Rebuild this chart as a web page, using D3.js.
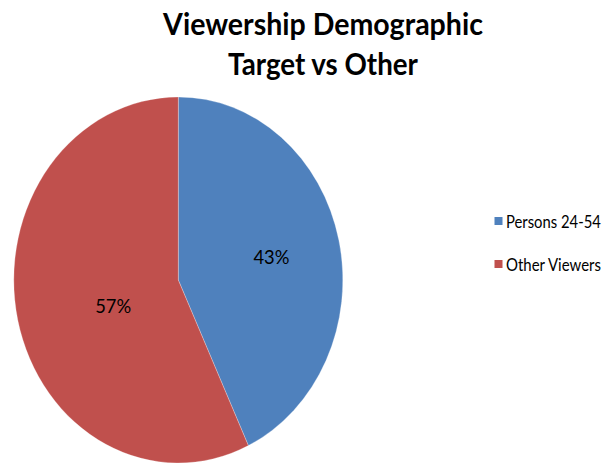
<!DOCTYPE html>
<html>
<head>
<meta charset="utf-8">
<script src="https://cdn.jsdelivr.net/npm/d3@7"></script>
<style>
  html, body { margin: 0; padding: 0; background: #fff; }
  svg { display: block; }
  text { font-family: Lato, "Open Sans", "DejaVu Sans", sans-serif; fill: #000; }
</style>
</head>
<body>
<svg id="chart" width="605" height="465"></svg>
<script>
// Viewership split: target demographic versus everyone else
const categories = ["Persons 24-54", "Other Viewers"];
const shares = [43, 57];
const colors = ["#4F81BD", "#C0504D"];
const titleLines = ["Viewership Demographic", "Target vs Other"];

const svg = d3.select("#chart");

// Narrow a text horizontally around its anchor point so it spans `width` px
function squeeze(sel, x, y, width, anchor) {
  const natural = sel.node().getComputedTextLength();
  const k = Math.min(1, width / natural);
  sel.attr("x", 0).attr("y", 0)
    .attr("text-anchor", anchor)
    .attr("transform", `translate(${x},${y}) scale(${k},1)`);
}

// Pie is drawn slightly taller than wide
const cx = 178.3, cy = 280, ry = 183, rx = 164.5;

const pie = d3.pie().sort(null).value(d => d.value);
const data = categories.map((c, i) => ({ name: c, value: shares[i], color: colors[i] }));
const arcs = pie(data);

const arc = d3.arc().innerRadius(0).outerRadius(ry);

const g = svg.append("g")
  .attr("transform", `translate(${cx},${cy}) scale(${rx / ry},1)`);

g.selectAll("path.slice")
  .data(arcs)
  .enter().append("path")
  .attr("class", "slice")
  .attr("d", arc)
  .attr("fill", d => d.data.color)
  .attr("stroke", "#ffffff")
  .attr("stroke-opacity", 0.35)
  .attr("stroke-width", 0.8);

// Percentage labels inside the slices
const labelRadius = { "Persons 24-54": 0.58, "Other Viewers": 0.42 };
const labelTurn = { "Persons 24-54": 0, "Other Viewers": -0.12 };
const total = d3.sum(shares);
const labels = svg.append("g");
arcs.forEach(d => {
  const mid = (d.startAngle + d.endAngle) / 2 + labelTurn[d.data.name];
  const f = labelRadius[d.data.name];
  const x = cx + rx * f * Math.sin(mid);
  const y = cy - ry * f * Math.cos(mid);
  const t = labels.append("text")
    .attr("dy", "0.36em")
    .attr("font-size", 20)
    .text(Math.round(d.data.value / total * 100) + "%");
  squeeze(t, x, y, 36, "middle");
});

// Title
const title = svg.append("g");
const titleWidths = [320, 190];
titleLines.forEach((s, i) => {
  const t = title.append("text")
    .attr("font-size", 31)
    .attr("font-weight", "bold")
    .text(s);
  squeeze(t, 323, 35 + i * 40, titleWidths[i], "middle");
});

// Legend
const legend = svg.append("g");
data.forEach((d, i) => {
  const y = 217 + i * 43;
  legend.append("rect")
    .attr("x", 494.5)
    .attr("y", y)
    .attr("width", 8)
    .attr("height", 8)
    .attr("fill", d.color);
  const t = legend.append("text")
    .attr("font-size", 17)
    .text(d.name);
  squeeze(t, 506, y + 10.5, 95, "start");
});
</script>
</body>
</html>
